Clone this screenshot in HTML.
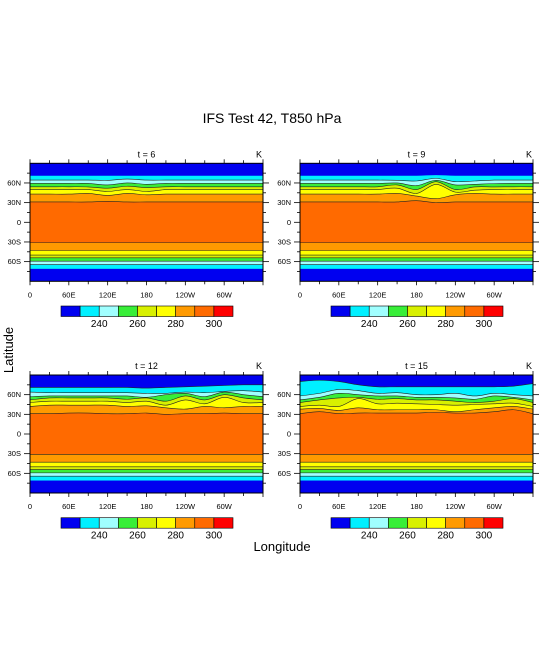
<!DOCTYPE html>
<html><head><meta charset="utf-8"><style>
html,body{margin:0;padding:0;background:#fff}
svg{display:block}
text{font-family:"Liberation Sans",sans-serif}
</style></head><body>
<svg id="fig" width="544" height="658" viewBox="0 0 544 658" xmlns="http://www.w3.org/2000/svg">
<text x="272" y="123" font-size="14" text-anchor="middle">IFS Test 42, T850 hPa</text>
<text transform="translate(13,350) rotate(-90)" font-size="13" text-anchor="middle">Latitude</text>
<text x="282" y="551" font-size="13" text-anchor="middle">Longitude</text>
</svg>
<script>
const levels=[230,240,250,260,270,280,290,300];
const colors=["#0000f0","#00f0ff","#a0ffff","#38ee38","#d8f000","#ffff00","#ff9a00","#ff6a00","#ff0000"];
const lons=[0,30,60,90,120,150,180,210,240,270,300,330,360];
const southLat=[-71,-64.4,-59.3,-54.2,-50,-43,-31];
const titles=["t = 6","t = 9","t = 12","t = 15"];
const xTickLabels=["0","60E","120E","180","120W","60W"];
const yTickLabels=["60N","30N","0","30S","60S"];
const yTickVals=[60,30,0,-30,-60];
const north6=[
[71,71,71,71,71,71,71,71,71,71,71,71,71],
[64.4,64.4,64.4,64.4,64,66,64.4,64.4,64.4,64.4,64.4,64.4,64.4],
[59.3,59.3,59.3,59.3,57,60,58,59.3,59.3,59.3,59.3,59.3,59.3],
[54.2,54.2,54.2,54,52,55,53,54.2,54.2,54.2,54.2,54.2,54.2],
[50,50,50,50,47,50,47,50,50,50,50,50,50],
[43,43,43,44,41,44,42,43,43,43,43,43,43],
[31,31,31,31,32,31,31,31,31,31,31,31,31]];
const north9=[
[71,71,71,71,71,71,71,72,71,71,71,71,71],
[64.4,64.4,64.4,64.4,64.4,64,63,67,62,63,64.4,64.4,64.4],
[59.3,59.3,59.3,59.3,59.3,60,56,64,57,58,59,59.3,59.3],
[54.2,54.2,54.2,54.2,54.2,57,50,62,50,54,54,54.2,54.2],
[50,50,50,50,50,52,44,58,46,49,50,50,50],
[43,43,43,43,43,44,40,36,42,44,43,43,43],
[31,31,31,31,31,31,33,30,31,31,31,31,31]];
const north12=[
[71,71,71,71,71,71,70,71,72,73,74,75,75],
[64,63,63,63,63,63,62,62,64,63,65,66,64],
[57,58,58,58,58,58,56,60,62,57,64,60,57],
[52,55,55,55,55,53,55,50,58,52,60,55,52],
[48,50,50,50,50,48,50,44,52,46,56,48,48],
[42,44,44,44,44,42,43,40,38,42,40,42,42],
[31,31,32,32,31,31,32,30,31,31,32,31,31]];
const north15=[
[80,82,80,75,72,72,72,72,72,72,72,73,77],
[58,62,68,66,62,63,60,60,62,58,62,60,58],
[52,56,62,60,58,58,56,56,55,53,58,56,52],
[48,52,55,56,53,54,52,52,50,48,50,54,48],
[42,44,42,54,46,47,46,45,44,45,46,47,42],
[38,39,36,40,37,37,37,37,34,37,40,42,38],
[31,34,31,32,32,32,32,33,32,32,34,37,31]];
const panelData=[north6,north9,north12,north15];

const NS="http://www.w3.org/2000/svg";
const svg=document.getElementById('fig');
function mk(tag,attrs,parent){const e=document.createElementNS(NS,tag);for(const k in attrs)e.setAttribute(k,attrs[k]);(parent||svg).appendChild(e);return e;}
const panels=[{x:30,y:163.3},{x:300,y:163.3},{x:30,y:375},{x:300,y:375}];
const PW=233,PH=118;
function smoothPath(pts){let d="M"+pts[0][0]+","+pts[0][1];for(let i=0;i<pts.length-1;i++){const p0=pts[Math.max(0,i-1)],p1=pts[i],p2=pts[i+1],p3=pts[Math.min(pts.length-1,i+2)];const c1=[p1[0]+(p2[0]-p0[0])/6,p1[1]+(p2[1]-p0[1])/6],c2=[p2[0]-(p3[0]-p1[0])/6,p2[1]-(p3[1]-p1[1])/6];d+=" C"+c1[0].toFixed(2)+","+c1[1].toFixed(2)+" "+c2[0].toFixed(2)+","+c2[1].toFixed(2)+" "+p2[0].toFixed(2)+","+p2[1].toFixed(2);}return d;}
panels.forEach((P,pi)=>{
  const g=mk('g',{});
  
  
  const xs=l=>P.x+l/360*PW, ys=la=>P.y+(90-la)/180*PH;
  const cp=mk('clipPath',{id:'c'+pi},g);mk('rect',{x:P.x,y:P.y,width:PW,height:PH},cp);
  const plot=mk('g',{'clip-path':'url(#c'+pi+')'},g);
  const bg=mk('rect',{x:P.x,y:P.y,width:PW,height:PH,fill:colors[7]},plot);
  
  
  const data=panelData[pi];
  for(let k=data.length-1;k>=0;k--){
    const pts=lons.map((l,i)=>[xs(l),ys(data[k][i])]);
    const d=smoothPath(pts);
    const f=mk('path',{d:d+" L"+xs(360)+","+(P.y-2)+" L"+xs(0)+","+(P.y-2)+" Z",fill:colors[k]},plot);
    
    
  }
  for(let k=southLat.length-1;k>=0;k--){
    const y=ys(southLat[k]);
    const r=mk('rect',{x:P.x,y:y,width:PW,height:P.y+PH+2-y,fill:colors[k]},plot);
    
    
  }
  for(let k=0;k<data.length;k++){
    if(k===0&&pi<2)continue;
    const pts=lons.map((l,i)=>[xs(l),ys(data[k][i])]);
    const c=mk('path',{d:smoothPath(pts),fill:'none',stroke:'#222','stroke-width':0.6},plot);
    
    
  }
  southLat.forEach((la,k)=>{if(k===0)return;const l=mk('line',{x1:P.x,x2:P.x+PW,y1:ys(la),y2:ys(la),stroke:'#222','stroke-width':0.6},plot);
    
    });
  const fr=mk('rect',{x:P.x,y:P.y,width:PW,height:PH,fill:'none',stroke:'#000','stroke-width':1},g);
  
  
  for(let l=0;l<=360;l+=30){const x=xs(l);const len=(l%60===0)?4:3;
    mk('line',{x1:x,x2:x,y1:P.y,y2:P.y-len,stroke:'#000','stroke-width':0.8},g);
    mk('line',{x1:x,x2:x,y1:P.y+PH,y2:P.y+PH+len,stroke:'#000','stroke-width':0.8},g);}
  for(let la=-75;la<=75;la+=15){const y=ys(la);const len=(la%30===0)?6:3;
    mk('line',{x1:P.x,x2:P.x-len,y1:y,y2:y,stroke:'#000','stroke-width':0.8},g);
    mk('line',{x1:P.x+PW,x2:P.x+PW+len,y1:y,y2:y,stroke:'#000','stroke-width':0.8},g);}
  xTickLabels.forEach((t,i)=>{const e=mk('text',{x:xs(i*60),y:P.y+PH+16,'font-size':7.5,'text-anchor':'middle'},g);e.textContent=t;
    
    });
  yTickLabels.forEach((t,i)=>{const e=mk('text',{x:P.x-9,y:ys(yTickVals[i])+2.5,'font-size':7.5,'text-anchor':'end'},g);e.textContent=t;
    
    });
  const tt=mk('text',{x:P.x+PW/2,y:P.y-6,'font-size':9,'text-anchor':'middle'},g);tt.textContent=titles[pi];
  
  
  const ku=mk('text',{x:P.x+PW-1,y:P.y-6,'font-size':9,'text-anchor':'end'},g);ku.textContent="K";
  
  
  const cb=mk('g',{},g);
  
  
  const cx0=P.x+31,cw=172/colors.length,cy=P.y+PH+24.7;
  colors.forEach((c,i)=>{const r=mk('rect',{x:cx0+i*cw,y:cy,width:cw,height:10.5,fill:c,stroke:'#000','stroke-width':0.6},cb);
    
    });
  levels.forEach((v,i)=>{if(i%2===0)return;const e=mk('text',{x:cx0+(i+1)*cw,y:cy+21,'font-size':10,'text-anchor':'middle'},cb);e.textContent=v;
    
    });
});
</script>
</body></html>
